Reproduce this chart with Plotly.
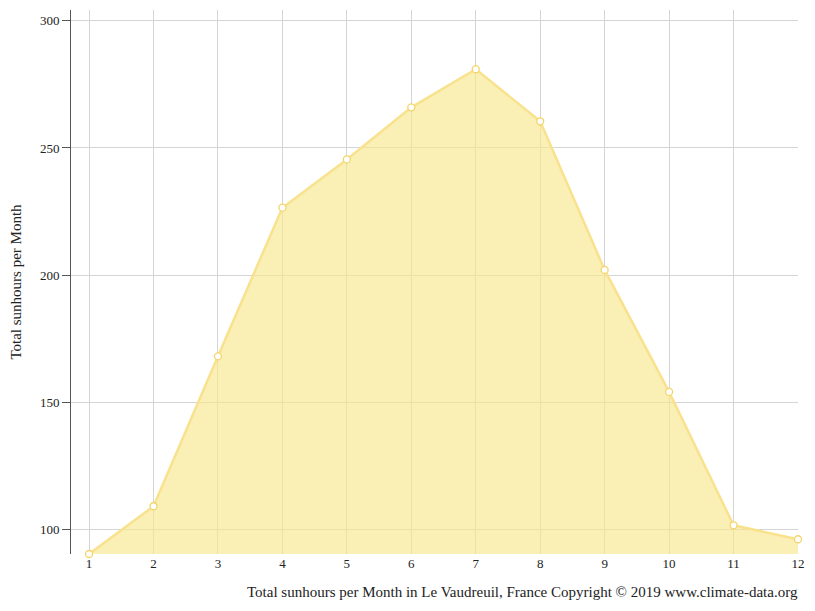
import plotly.graph_objects as go

months = [1, 2, 3, 4, 5, 6, 7, 8, 9, 10, 11, 12]
sunhours = [90.2, 109, 168, 226.5, 245.5, 266, 281, 260.5, 202, 154, 101.5, 96]

fig = go.Figure(go.Scatter(
    x=months, y=sunhours, mode="lines+markers", fill="tozeroy",
    fillcolor="rgba(248,230,140,0.65)",
    line=dict(color="#f8e28e", width=2.5),
    marker=dict(size=7, color="white", line=dict(color="#f2d56a", width=1.3)),
    cliponaxis=False,
))
fig.update_layout(
    width=799, height=595, plot_bgcolor="white", paper_bgcolor="white",
    margin=dict(l=63, r=9, t=2, b=49), showlegend=False,
    font=dict(family="Liberation Serif", size=14, color="#222"),
)
fig.update_xaxes(range=[0.72, 12], tickvals=months, showgrid=True, gridcolor="#d5d5d5",
                 zeroline=False, ticks="", tickfont=dict(size=13))
fig.update_yaxes(range=[90.2, 304.3], tickvals=[100, 150, 200, 250, 300], showgrid=True,
                 gridcolor="#d5d5d5", zeroline=False, showline=True, linecolor="#555",
                 ticks="outside", ticklen=8, tickcolor="#555", tickfont=dict(size=13),
                 title=dict(text="Total sunhours per Month", font=dict(size=15), standoff=14))
fig.add_annotation(text="Total sunhours per Month in Le Vaudreuil, France Copyright © 2019 www.climate-data.org",
                   xref="paper", yref="paper", x=1.003, y=-0.052, xanchor="right", yanchor="top",
                   showarrow=False, font=dict(size=15))
fig.write_html("out.html")
